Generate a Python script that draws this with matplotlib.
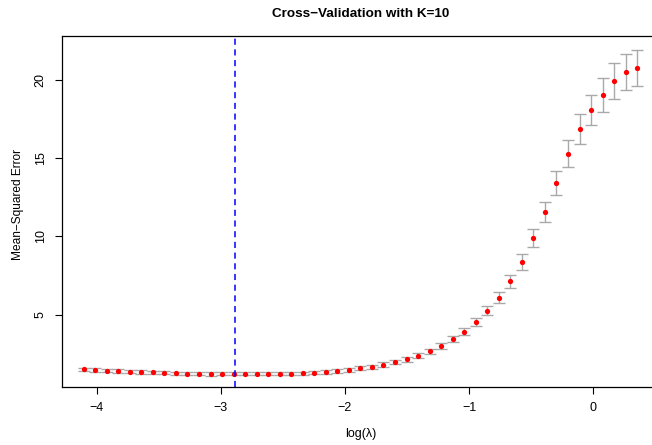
import matplotlib.pyplot as plt

plt.rcParams['font.family'] = ['Liberation Sans', 'DejaVu Sans']

# log(lambda) grid of the CV path
log_lambda = [-4.105, -4.012, -3.919, -3.826, -3.733, -3.641, -3.548, -3.455,
              -3.362, -3.269, -3.176, -3.083, -2.990, -2.897, -2.804, -2.711,
              -2.619, -2.526, -2.433, -2.340, -2.247, -2.154, -2.061, -1.968,
              -1.875, -1.783, -1.690, -1.597, -1.504, -1.411, -1.318, -1.225,
              -1.132, -1.039, -0.946, -0.853, -0.761, -0.668, -0.575, -0.482,
              -0.389, -0.296, -0.203, -0.110, -0.017, 0.076, 0.169, 0.262, 0.355]

# mean cv error
cvm = [1.50, 1.46, 1.42, 1.38, 1.35, 1.33, 1.31, 1.29, 1.25, 1.23, 1.23, 1.21,
       1.21, 1.21, 1.21, 1.21, 1.21, 1.23, 1.23, 1.25, 1.29, 1.33, 1.40, 1.47,
       1.57, 1.65, 1.80, 1.95, 2.14, 2.37, 2.65, 2.99, 3.42, 3.91, 4.51, 5.23,
       6.07, 7.12, 8.37, 9.88, 11.54, 13.38, 15.27, 16.86, 18.05, 19.03, 19.90,
       20.48, 20.73]

# cv standard error (half bar)
cvsd = [0.11, 0.11, 0.11, 0.11, 0.11, 0.11, 0.11, 0.11, 0.11, 0.11, 0.11, 0.11,
        0.10, 0.10, 0.10, 0.10, 0.10, 0.10, 0.10, 0.10, 0.10, 0.11, 0.12, 0.12,
        0.13, 0.13, 0.14, 0.14, 0.15, 0.16, 0.17, 0.17, 0.19, 0.21, 0.245, 0.29,
        0.35, 0.43, 0.50, 0.58, 0.66, 0.755, 0.87, 0.95, 0.98, 1.08, 1.13,
        1.16, 1.15]

lambda_min = -2.887

fig = plt.figure(figsize=(6.52, 4.45), dpi=100)
ax = fig.add_axes([0.0951, 0.1303, 0.9156, 0.7887])

ax.errorbar(log_lambda, cvm, yerr=cvsd, fmt='none', ecolor='#A9A9A9',
            elinewidth=1, capsize=4.2, capthick=1)
ax.plot(log_lambda, cvm, 'o', color='red', markersize=3.8, markeredgewidth=0)
ax.axvline(lambda_min, color='blue', lw=1.1, ls=(0, (4, 3)))

ax.set_xlim(-4.28, 0.53)
ax.set_ylim(0.37, 22.78)
ax.set_xticks([-4, -3, -2, -1, 0])
ax.set_yticks([5, 10, 15, 20])
ax.tick_params(direction='out', length=5, width=0.8, labelsize=9, pad=6)
for lab in ax.get_yticklabels():
    lab.set_rotation(90)
    lab.set_va('center')

for sp in ax.spines.values():
    sp.set_linewidth(0.9)

ax.set_xlabel('log(λ)', fontsize=9, labelpad=10)
ax.set_ylabel('Mean−Squared Error', fontsize=8.6)
ax.yaxis.set_label_coords(-0.063, 0.52)
ax.set_title('Cross−Validation with K=10', fontsize=9.7, fontweight='bold', pad=14)

fig.savefig('out.png', dpi=100)
